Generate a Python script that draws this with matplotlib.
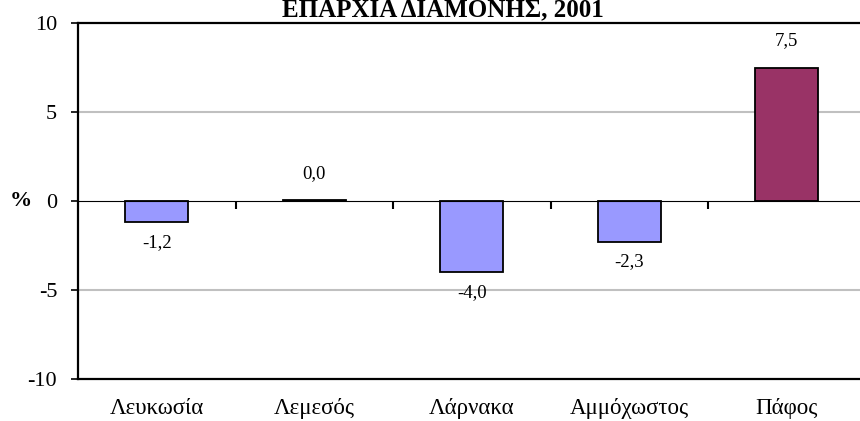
import matplotlib
matplotlib.use("Agg")
import matplotlib.pyplot as plt

categories = ["Λευκωσία", "Λεμεσός", "Λάρνακα", "Αμμόχωστος", "Πάφος"]
values = [-1.2, 0.04, -4.0, -2.3, 7.5]
colors = ["#9999FF", "#9999FF", "#9999FF", "#9999FF", "#993366"]
yticks = [-10, -5, 0, 5, 10]
title = "ΕΠΑΡΧΙΑ ΔΙΑΜΟΝΗΣ, 2001"

plt.rcParams['font.family'] = ['Liberation Serif', 'DejaVu Serif']

W, H = 860, 421
fig = plt.figure(figsize=(W / 100, H / 100), dpi=100)
ax = fig.add_axes([78 / W, 1 - 379 / H, 787.5 / W, 356 / H])

x = list(range(len(categories)))
ax.bar(x, values, width=0.4, color=colors, edgecolor="black", linewidth=1.3, zorder=3)
ax.set_xlim(-0.5, len(categories) - 0.5)
ax.set_ylim(-10, 10)

for yv in [-5, 5]:
    ax.axhline(yv, color="#C0C0C0", linewidth=1.5, zorder=1)

ax.set_yticks(yticks)
ax.set_yticklabels([str(t) for t in yticks])
ax.tick_params(axis="y", direction="out", length=5, width=1.2, pad=10, labelsize=16)
ax.set_xticks(x)
ax.set_xticklabels(categories)
ax.tick_params(axis="x", length=0, pad=14, labelsize=16.5)

for s in ["top", "left", "bottom"]:
    ax.spines[s].set_linewidth(1.6)
    ax.spines[s].set_color("black")
ax.spines["right"].set_visible(False)

sec = ax.secondary_xaxis(0.5)
sec.set_xticks([i + 0.5 for i in x[:-1]])
sec.set_xticklabels([])
sec.xaxis.set_ticks_position("bottom")
sec.tick_params(axis="x", which="both", direction="out", length=6, width=1.5,
                bottom=True, top=False)
sec.spines["bottom"].set_linewidth(1.6)
sec.set_zorder(4)

for xi, v in zip(x, values):
    lab = f"{v:.1f}".replace(".", ",")
    if v >= 0:
        ax.annotate(lab, (xi, v), xytext=(0, 27), textcoords="offset pixels",
                    ha="center", va="center", fontsize=13.5)
    else:
        ax.annotate(lab, (xi, v), xytext=(0, -20), textcoords="offset pixels",
                    ha="center", va="center", fontsize=13.5)

fig.text(21 / W, 0.5 * (1 - 379 / H) + 0.5 * (1 - 23 / H), "%", fontsize=16,
         fontweight="bold", ha="center", va="center")
fig.text(443 / W, 1 - 16 / H, title, fontsize=18, fontweight="bold",
         ha="center", va="baseline")

fig.savefig("out.png", dpi=100)
